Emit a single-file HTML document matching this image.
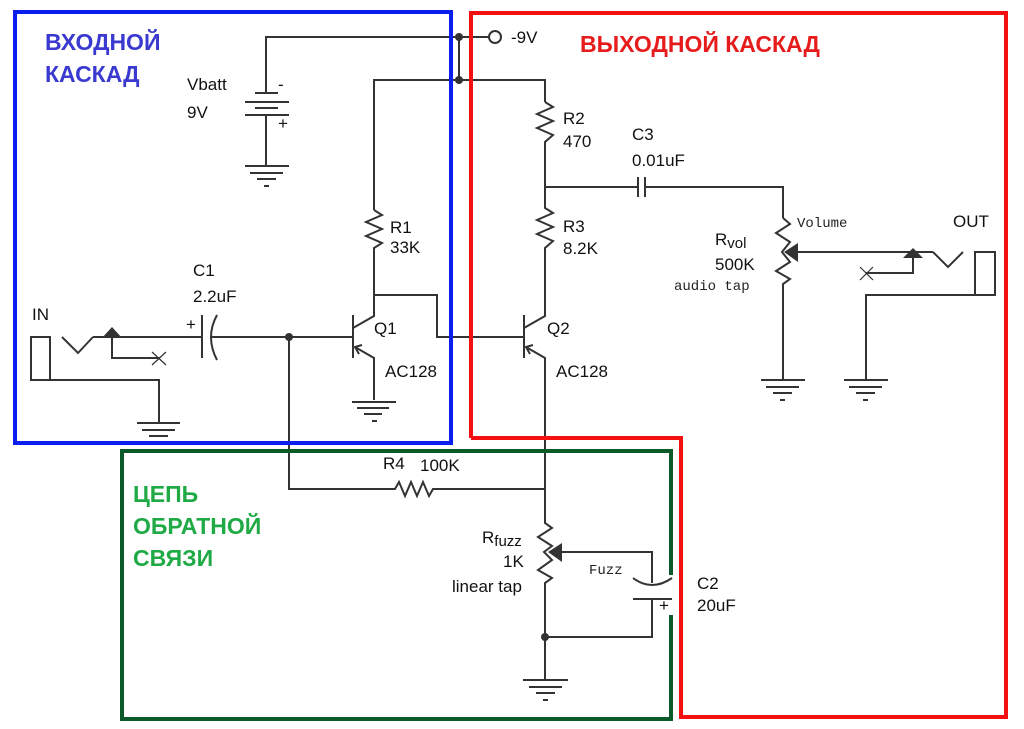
<!DOCTYPE html>
<html><head><meta charset="utf-8"><style>
html,body{margin:0;padding:0;background:#fff;width:1024px;height:729px;overflow:hidden}
svg{display:block}
text{font-family:"Liberation Sans",sans-serif;fill:#111;font-size:17px}
.m{font-family:"Liberation Mono",monospace;font-size:14px;fill:#222}
.t{font-weight:bold;font-size:23px}
</style></head><body>
<svg width="1024" height="729" viewBox="0 0 1024 729" xmlns="http://www.w3.org/2000/svg">
<g fill="none" stroke="#333" stroke-width="2">
<polyline points="266,93 266,37 489,37"/>
<circle cx="495" cy="37" r="6" fill="#fff"/>
<line x1="459" y1="37" x2="459" y2="80"/>
<polyline points="374,210 374,80 545,80 545,102"/>
<line x1="255" y1="93" x2="278" y2="93"/>
<line x1="245" y1="102" x2="289" y2="102"/>
<line x1="255" y1="108" x2="278" y2="108"/>
<line x1="245" y1="115" x2="289" y2="115"/>
<polyline points="266,115 266,166"/>
<line x1="245" y1="166" x2="289" y2="166"/><line x1="250" y1="173" x2="283" y2="173"/><line x1="257" y1="179" x2="276" y2="179"/><line x1="264" y1="186" x2="269" y2="186"/>
<polyline points="374,210 382,215 366,222 382,229 366,236 382,243 374,248 374,295 437,295 437,337 524,337"/>
<line x1="353" y1="315" x2="353" y2="358"/>
<polyline points="353,328 374,316 374,295"/>
<polyline points="374,400 374,358 355,347"/>
<polyline points="362,345 355,347 359,354"/>
<line x1="289" y1="337" x2="353" y2="337"/>
<line x1="352" y1="402" x2="396" y2="402"/><line x1="357" y1="408" x2="389" y2="408"/><line x1="364" y1="414" x2="382" y2="414"/><line x1="372" y1="421" x2="377" y2="421"/>
<line x1="93" y1="337" x2="202" y2="337"/>
<line x1="202" y1="315" x2="202" y2="358"/>
<path d="M217,315 Q205,337 217,360"/>
<line x1="210" y1="337" x2="289" y2="337"/>
<rect x="31" y="337" width="19" height="43"/>
<polyline points="62,337 78,353 93,337"/>
<polyline points="112,337 112,358 160,358"/>
<line x1="152" y1="352" x2="166" y2="365" stroke-width="1.2"/><line x1="166" y1="352" x2="152" y2="365" stroke-width="1.2"/>
<polyline points="31,380 159,380 159,423"/>
<line x1="137" y1="423" x2="180" y2="423"/><line x1="142" y1="430" x2="175" y2="430"/><line x1="149" y1="436" x2="168" y2="436"/>
<polyline points="289,337 289,489 395,489 399,482 405,496 411,482 417,496 423,482 429,496 433,489 545,489"/>
<polyline points="545,102 553,107 537,114 553,121 537,128 553,135 545,142 545,208 553,213 537,220 553,227 537,234 553,241 545,248 545,316 524,328"/>
<line x1="524" y1="315" x2="524" y2="358"/>
<polyline points="545,489 545,358 526,347"/>
<polyline points="533,345 526,347 530,354"/>
<polyline points="545,187 638,187"/>
<line x1="638" y1="177" x2="638" y2="197"/><line x1="645" y1="177" x2="645" y2="197"/>
<polyline points="645,187 783,187 783,218"/>
<polyline points="783,218 790,224 776,233 790,242 782,252 790,262 776,271 790,279 783,284 783,380"/>
<line x1="761" y1="380" x2="805" y2="380"/><line x1="766" y1="387" x2="799" y2="387"/><line x1="773" y1="393" x2="792" y2="393"/><line x1="780" y1="400" x2="785" y2="400"/>
<line x1="798" y1="252" x2="933" y2="252"/>
<polyline points="933,252 948,267 963,252"/>
<rect x="975" y="252" width="20" height="43"/>
<polyline points="913,258 913,273 866,273"/>
<line x1="860" y1="267" x2="873" y2="280" stroke-width="1.2"/><line x1="873" y1="267" x2="860" y2="280" stroke-width="1.2"/>
<polyline points="975,295 866,295 866,380"/>
<line x1="844" y1="380" x2="888" y2="380"/><line x1="849" y1="387" x2="882" y2="387"/><line x1="856" y1="393" x2="875" y2="393"/><line x1="863" y1="400" x2="868" y2="400"/>
<polyline points="545,489 545,523 552,528 538,537 552,546 544,552 552,560 538,570 552,578 545,583 545,680"/>
<polyline points="560,552 652,552 652,583"/>
<path d="M633,578 Q652,592 672,578"/>
<line x1="633" y1="599" x2="672" y2="599"/>
<polyline points="652,599 652,637 545,637"/>
<line x1="523" y1="680" x2="568" y2="680"/><line x1="529" y1="687" x2="562" y2="687"/><line x1="536" y1="693" x2="555" y2="693"/><line x1="543" y1="700" x2="548" y2="700"/>
</g>
<g fill="#333">
<circle cx="459" cy="37" r="4"/><circle cx="459" cy="80" r="4"/><circle cx="289" cy="337" r="4"/><circle cx="545" cy="637" r="4"/>
<polygon points="102,338 122,338 112,327"/>
<polygon points="903,258 923,258 913,248"/>
<polygon points="784,252 798,243 798,262"/>
<polygon points="548,552 562,543 562,562"/>
</g>
<g fill="none" stroke-width="4">
<rect x="15" y="12" width="436" height="431" stroke="#0a1ef0"/>
<polyline points="471,438 471,13 1006,13 1006,717 681,717 681,438 471,438" stroke="#f21010"/>
<polyline points="671,575 671,451 122,451 122,719 671,719 671,615" stroke="#0b5a2a"/>
</g>
<text x="187" y="90">Vbatt</text><text x="187" y="118">9V</text>
<text x="278" y="90" font-size="13">-</text><text x="278" y="129" font-size="11">+</text>
<text x="511" y="43" font-size="16">-9V</text>
<text x="390" y="233">R1</text><text x="390" y="253">33K</text>
<text x="193" y="276">C1</text><text x="193" y="302">2.2uF</text>
<text x="186" y="330" font-size="12">+</text>
<text x="32" y="320">IN</text>
<text x="374" y="334">Q1</text><text x="385" y="377">AC128</text>
<text x="547" y="334">Q2</text><text x="556" y="377">AC128</text>
<text x="563" y="124">R2</text><text x="563" y="147">470</text>
<text x="632" y="140">C3</text><text x="632" y="166">0.01uF</text>
<text x="563" y="232">R3</text><text x="563" y="254">8.2K</text>
<text x="715" y="245">R<tspan font-size="15" dy="3">vol</tspan></text>
<text x="715" y="270">500K</text>
<text class="m" x="674" y="290">audio tap</text>
<text class="m" x="797" y="227">Volume</text>
<text x="953" y="227">OUT</text>
<text x="383" y="469">R4</text><text x="420" y="471">100K</text>
<text x="482" y="543">R<tspan font-size="15" dy="3">fuzz</tspan></text>
<text x="503" y="567">1K</text><text x="452" y="592">linear tap</text>
<text class="m" x="589" y="574">Fuzz</text>
<text x="659" y="611" font-size="12">+</text>
<text x="697" y="589">C2</text><text x="697" y="611">20uF</text>
<text class="t" x="45" y="50" style="fill:#3a3ad0">ВХОДНОЙ</text>
<text class="t" x="45" y="82" style="fill:#3a3ad0">КАСКАД</text>
<text class="t" x="580" y="52" style="fill:#e61b1b">ВЫХОДНОЙ КАСКАД</text>
<text class="t" x="133" y="502" style="fill:#1faa45">ЦЕПЬ</text>
<text class="t" x="133" y="534" style="fill:#1faa45">ОБРАТНОЙ</text>
<text class="t" x="133" y="566" style="fill:#1faa45">СВЯЗИ</text>
</svg>
</body></html>
